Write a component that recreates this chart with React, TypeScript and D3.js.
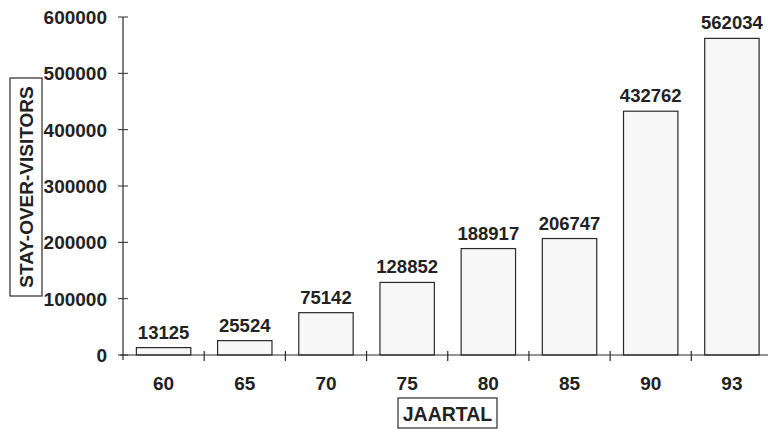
import React from "react";
import * as d3 from "d3";

const categories = ["60", "65", "70", "75", "80", "85", "90", "93"];
const values = [13125, 25524, 75142, 128852, 188917, 206747, 432762, 562034];
const yTicks = [0, 100000, 200000, 300000, 400000, 500000, 600000];

const W = 768;
const H = 432;
const FONT = "'Liberation Sans', Arial, sans-serif";

export default function App() {
  const x = d3.scaleBand<string>().domain(categories).range([123, 772.5]).paddingInner(0.33).paddingOuter(0.165);
  const y = d3.scaleLinear().domain([0, 600000]).range([355, 17]);
  const step = x.step();
  const boundaries = categories.map((_, i) => 123 + step * (i + 1));
  const textStyle = { fontFamily: FONT, fontSize: 19, fill: "#222", fontWeight: 700 as const };

  return (
    <svg width={W} height={H} style={{ position: "absolute", left: 0, top: 0, background: "#fff" }}>
      {/* bars */}
      {values.map((v, i) => (
        <g key={categories[i]}>
          <rect
            x={x(categories[i])}
            y={y(v)}
            width={x.bandwidth()}
            height={y(0) - y(v)}
            fill="#f7f7f7"
            stroke="#2a2a2a"
            strokeWidth={1.2}
          />
          <text
            x={(x(categories[i]) as number) + x.bandwidth() / 2}
            y={y(v) - 9}
            textAnchor="middle"
            {...textStyle}
            fontSize={18.5}
          >
            {v}
          </text>
          <text
            x={(x(categories[i]) as number) + x.bandwidth() / 2}
            y={390}
            textAnchor="middle"
            {...textStyle}
          >
            {categories[i]}
          </text>
        </g>
      ))}
      {/* y axis */}
      <line x1={123} x2={123} y1={y(600000)} y2={y(0) + 5} stroke="#2a2a2a" strokeWidth={1.2} />
      {yTicks.map((t) => (
        <g key={t}>
          <line x1={118} x2={128} y1={y(t)} y2={y(t)} stroke="#2a2a2a" strokeWidth={1} />
          <text x={107} y={y(t)} dy="0.36em" textAnchor="end" {...textStyle}>
            {t}
          </text>
        </g>
      ))}
      {/* x axis */}
      <line x1={120} x2={W} y1={y(0)} y2={y(0)} stroke="#2a2a2a" strokeWidth={1.2} />
      {boundaries.map((b, i) => (
        <line key={i} x1={b} x2={b} y1={y(0) - 4} y2={y(0) + 6} stroke="#2a2a2a" strokeWidth={1.2} />
      ))}
      {/* y title */}
      <rect x={10} y={78} width={32} height={218} fill="#fff" stroke="#2a2a2a" strokeWidth={1.2} />
      <text
        transform={`translate(33, 187) rotate(-90)`}
        textAnchor="middle"
        {...textStyle}
        fontSize={19}
      >
        STAY-OVER-VISITORS
      </text>
      {/* x title */}
      <rect x={398} y={398} width={99} height={30} fill="#fff" stroke="#2a2a2a" strokeWidth={1.2} />
      <text x={447.5} y={420.5} textAnchor="middle" {...textStyle} fontSize={19.5}>
        JAARTAL
      </text>
    </svg>
  );
}
